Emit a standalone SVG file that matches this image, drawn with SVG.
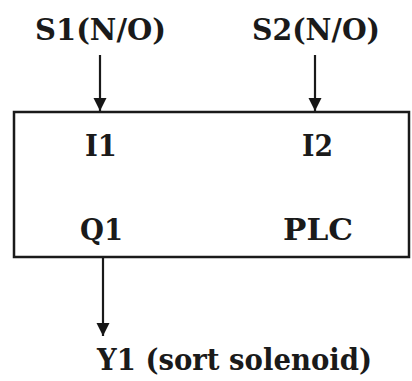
<svg xmlns="http://www.w3.org/2000/svg" width="412" height="381" viewBox="0 0 412 381">
  <defs>
    <marker id="arrow" viewBox="0 0 10 10" refX="10" refY="5" markerWidth="13" markerHeight="14" markerUnits="userSpaceOnUse" orient="auto">
      <path d="M0,0 L10,5 L0,10 Z" fill="#161616"/>
    </marker>
  </defs>
  <style>
    .lbl { font-family: "DejaVu Serif", "Liberation Serif", serif; font-size: 30px; font-weight: bold; fill: #1a1a1a; }
    .box { fill: none; stroke: #1a1a1a; stroke-width: 2.5; }
    .wire { fill: none; stroke: #1a1a1a; stroke-width: 2.2; marker-end: url(#arrow); }
  </style>
  <rect width="412" height="381" fill="#ffffff"/>

  <!-- inputs -->
  <g id="s1">
    <text class="lbl" x="35" y="40" textLength="131" lengthAdjust="spacingAndGlyphs">S1(N/O)</text>
  </g>
  <g id="s2">
    <text class="lbl" x="252" y="40" textLength="128" lengthAdjust="spacingAndGlyphs">S2(N/O)</text>
  </g>

  <!-- controller block -->
  <g id="plc">
    <rect class="box" x="14" y="112" width="395" height="145"/>
    <text class="lbl" x="85" y="156" textLength="32" lengthAdjust="spacingAndGlyphs">I1</text>
    <text class="lbl" x="302" y="156" textLength="31" lengthAdjust="spacingAndGlyphs">I2</text>
    <text class="lbl" x="80" y="240" textLength="43" lengthAdjust="spacingAndGlyphs">Q1</text>
    <text class="lbl" x="283" y="240" textLength="70" lengthAdjust="spacingAndGlyphs">PLC</text>
  </g>

  <!-- output -->
  <g id="y1">
    <text class="lbl" x="97" y="370" textLength="275" lengthAdjust="spacingAndGlyphs">Y1 (sort solenoid)</text>
  </g>

  <!-- connectors -->
  <g id="connectors">
    <line class="wire" x1="100" y1="55" x2="100" y2="111"/>
    <line class="wire" x1="315" y1="55" x2="315" y2="111"/>
    <line class="wire" x1="103" y1="258" x2="103" y2="336"/>
  </g>
</svg>
